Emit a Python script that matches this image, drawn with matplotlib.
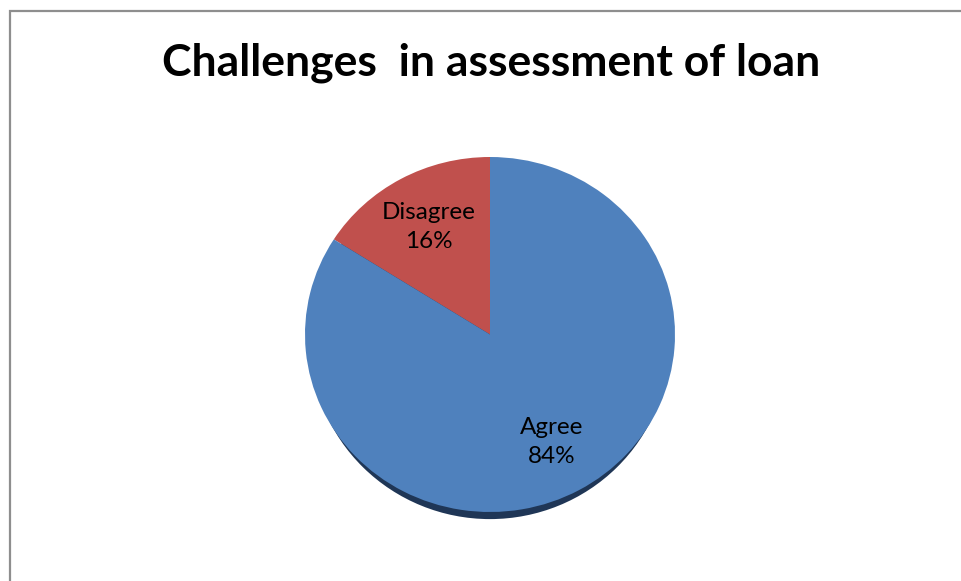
import matplotlib.pyplot as plt
from matplotlib.patches import Ellipse, Rectangle

categories = ['Disagree', 'Agree']
shares = [16, 84]
colors = ['#c0504d', '#4f81bd']

W, H = 962, 581
fig = plt.figure(figsize=(W / 100, H / 100), dpi=100)
fig.patch.set_facecolor('white')

# chart border (left and top edges visible, runs off right/bottom)
fig.patches.append(Rectangle((10 / W, -0.05), 1.2, 1.05 - 11 / H,
                             transform=fig.transFigure, fill=False,
                             edgecolor='#8e8e8e', linewidth=1.6))

fig.text(491 / W, 1 - 63 / H, 'Challenges  in assessment of loan',
         ha='center', va='center', fontsize=32, fontweight='bold',
         family='Lato')

# pie axes: x range -1.1..1.1 over 407 px, y range over 390 px
ax = fig.add_axes([286.5 / W, (H - 529.75) / H, 407 / W, 390.5 / H])

# dark rim under the pie, only showing along the bottom
ax.add_patch(Ellipse((0, -0.045), 1.94, 1.99, facecolor='#1f3656',
                     edgecolor='none', zorder=0))

labels_iter = iter(categories)
wedges, texts, autotexts = ax.pie(
    shares, colors=colors, startangle=90, counterclock=True,
    autopct=lambda p: f'{next(labels_iter)}\n{p:.0f}%',
    pctdistance=0.69,
    wedgeprops=dict(edgecolor='none', linewidth=0),
    textprops=dict(fontsize=17.5, family='Lato', color='black',
                   linespacing=1.45))
for w in wedges:
    w.set_zorder(1)

ax.set_aspect('auto')
ax.set_xlim(-1.1, 1.1)
ax.set_ylim(-1.1, 1.1)
ax.axis('off')

fig.savefig('out.png', dpi=100, facecolor='white')
